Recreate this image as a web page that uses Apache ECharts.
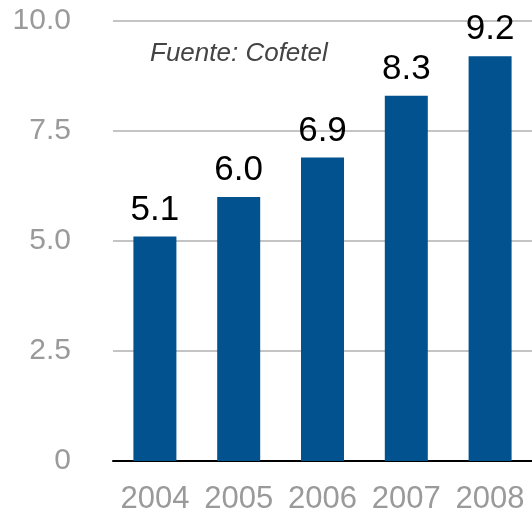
<!DOCTYPE html>
<html>
<head>
<meta charset="utf-8">
<script src="https://cdn.jsdelivr.net/npm/echarts@6/dist/echarts.min.js"></script>
<style>
	html, body { margin: 0; padding: 0; background: #fff; }
	#chart { width: 532px; height: 516px; }
</style>
</head>
<body>
<div id="chart"></div>
<script>
// chart data
var years = ['2004', '2005', '2006', '2007', '2008'];
var values = [5.1, 6.0, 6.9, 8.3, 9.2];
var yTicks = [0, 2.5, 5, 7.5, 10];

var myChart = echarts.init(document.getElementById('chart'));
var font = '"Liberation Sans", Arial, Helvetica, sans-serif';

var option = {
	animation: false,
	textStyle: { fontFamily: font },
	// source note inside the plot
	graphic: [{
		type: 'text',
		left: 150,
		top: 41,
		style: {
			text: 'Fuente: Cofetel',
			font: 'italic 26px ' + font,
			fill: '#444444'
		}
	}],
	grid: {
		left: 113,
		top: 21,
		width: 423,
		bottom: 55
	},
	xAxis: {
		type: 'category',
		data: years,
		axisLine: { lineStyle: { color: '#000', width: 2 } },
		axisTick: { show: false },
		axisLabel: {
			color: '#9a9a9a',
			fontSize: 31,
			margin: 23,
			interval: 0
		}
	},
	yAxis: {
		type: 'value',
		min: yTicks[0],
		max: yTicks[yTicks.length - 1],
		interval: 2.5,
		axisLine: { show: false },
		axisTick: { show: false },
		splitLine: { lineStyle: { color: '#c4c4c4', width: 2 } },
		axisLabel: {
			color: '#9a9a9a',
			fontSize: 30,
			margin: 42,
			formatter: function(v) { return v === 0 ? '0' : v.toFixed(1); }
		}
	},
	series: [{
		type: 'bar',
		data: values,
		barWidth: 43,
		itemStyle: { color: '#02528f' },
		label: {
			show: true,
			position: 'top',
			distance: 9,
			color: '#000',
			fontSize: 35,
			formatter: function(p) { return p.value.toFixed(1); }
		}
	}]
};
myChart.setOption(option);
</script>
</body>
</html>
